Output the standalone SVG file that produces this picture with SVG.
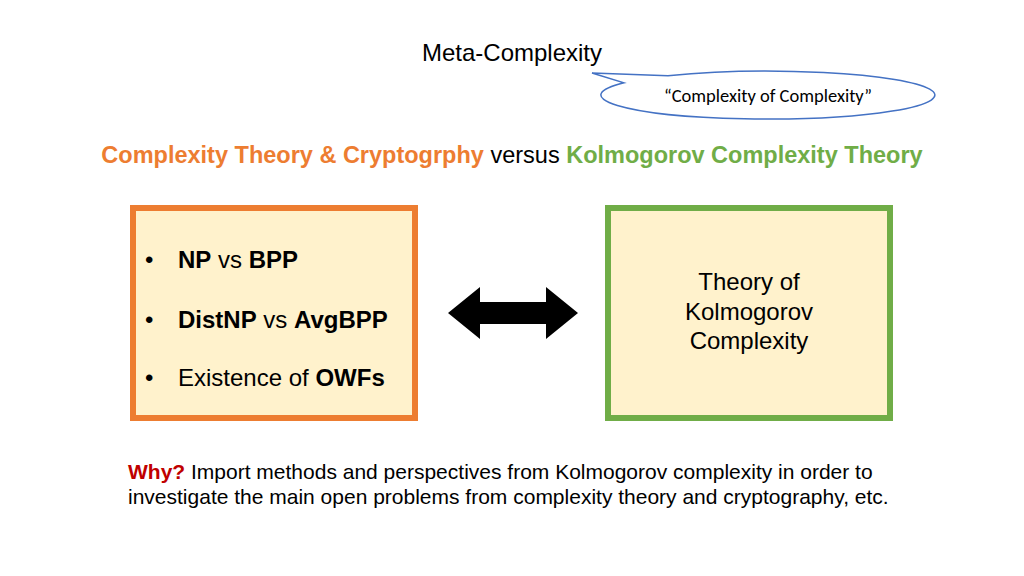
<svg xmlns="http://www.w3.org/2000/svg" width="1024" height="576" viewBox="0 0 1024 576">
<style>
text{font-family:"Liberation Sans",Arial,sans-serif;fill:#000}
.b{font-weight:bold}
.box{fill:#fff2cc;stroke-width:6}
</style>
<rect width="1024" height="576" fill="#fff"/>
<g id="title"><text x="512" y="61" font-size="24" text-anchor="middle">Meta-Complexity</text></g>
<g id="bubble">
<path d="M668,75.8 A167,24 0 1 1 624,82.85 L592,73 Z" fill="#fff" stroke="#4472c4" stroke-width="1.5"/>
<text x="768" y="102" font-size="18.5" text-anchor="middle" style="font-family:Carlito,Calibri,'Liberation Sans',sans-serif">“Complexity of Complexity”</text>
</g>
<g id="subtitle"><text x="512" y="163" font-size="23.5" text-anchor="middle"><tspan class="b" fill="#ed7d31">Complexity Theory &amp; Cryptogrphy</tspan> versus <tspan class="b" fill="#70ad47">Kolmogorov Complexity Theory</tspan></text></g>
<g id="left">
<rect class="box" x="133" y="208" width="282" height="210" stroke="#ed7d31"/>
<text font-size="24"><tspan x="145" y="268">•</tspan><tspan x="178" y="268"><tspan class="b">NP</tspan> vs <tspan class="b">BPP</tspan></tspan>
<tspan x="145" y="328">•</tspan><tspan x="178" y="328"><tspan class="b">DistNP</tspan> vs <tspan class="b">AvgBPP</tspan></tspan>
<tspan x="145" y="386">•</tspan><tspan x="178" y="386">Existence of <tspan class="b">OWFs</tspan></tspan></text>
</g>
<g id="right">
<rect class="box" x="608" y="208" width="282" height="210" stroke="#70ad47"/>
<text font-size="24" text-anchor="middle"><tspan x="749" y="290">Theory of</tspan><tspan x="749" y="320">Kolmogorov</tspan><tspan x="749" y="349">Complexity</tspan></text>
</g>
<g id="connectors">
<polygon points="448,313 480,287 480,302 546,302 546,287 578,313 546,339 546,324 480,324 480,339" fill="#000"/>
</g>
<g id="why"><text font-size="21"><tspan x="128" y="479"><tspan class="b" fill="#c00000">Why?</tspan> Import methods and perspectives from Kolmogorov complexity in order to</tspan><tspan x="128" y="504">investigate the main open problems from complexity theory and cryptography, etc.</tspan></text></g>
</svg>
